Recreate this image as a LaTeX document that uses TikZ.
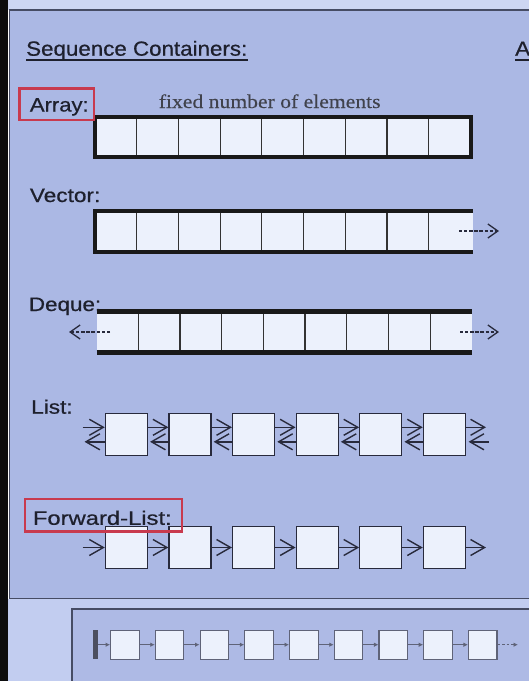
\documentclass[tikz,border=0pt]{standalone}
\usepackage{fontspec}
\usepackage{graphicx}
\setmainfont{Liberation Sans}
\newfontfamily\lblfont[FakeBold=0.6]{Liberation Sans}
\newfontfamily\serifff[FakeBold=0.3]{Liberation Serif}
\usetikzlibrary{arrows.meta}
\definecolor{panelbg}{RGB}{171,184,228}
\definecolor{topstrip}{RGB}{205,214,242}
\definecolor{lowbg}{RGB}{194,205,240}
\definecolor{cellfill}{RGB}{236,241,252}
\definecolor{boxbg}{RGB}{174,186,229}
\definecolor{redbox}{RGB}{200,58,78}
\definecolor{textcol}{RGB}{30,32,45}
\definecolor{framecol}{RGB}{70,76,100}
\definecolor{nodeline}{RGB}{40,42,60}
\definecolor{smallline}{RGB}{95,99,120}
\begin{document}
\begin{tikzpicture}[x=1pt,y=-1pt,
  lbl/.style={anchor=base west, inner sep=0pt, text=textcol, font=\lblfont\fontsize{19.5}{20}\selectfont},
  divider/.style={draw=black!80, line width=1.2pt},
  thickbox/.style={draw=black!90, line width=4pt},
  redframe/.style={draw=redbox, line width=2.5pt},
  lnode/.style={draw=nodeline, line width=1.3pt, fill=cellfill, minimum width=42pt, minimum height=42pt, inner sep=0pt},
  snode/.style={draw=smallline, line width=1.1pt, fill=cellfill, minimum width=28.5pt, minimum height=29pt, inner sep=0pt},
  barb/.style={draw=nodeline, line width=1.4pt, -{Straight Barb[length=14pt,width=16pt,line width=1.4pt]}},
  dasharr/.style={draw=nodeline, line width=1.2pt, dash pattern=on 3.3pt off 1.8pt, -{Straight Barb[length=10pt,width=14pt,line width=1.3pt]}},
  smallarr/.style={draw=smallline, line width=0.9pt, -{Latex[length=4.5pt,width=4.5pt]}},
  smalldash/.style={draw=smallline, line width=0.9pt, dash pattern=on 2.5pt off 2pt, -{Latex[length=4.5pt,width=4.5pt]}}
]
\useasboundingbox (0,0) rectangle (529,681);
% backgrounds
\fill[topstrip] (0,0) rectangle (529,10);
\fill[lowbg] (0,599) rectangle (529,681);
\fill[panelbg, draw=framecol, line width=1.5pt] (9.5,10) rectangle (540,598.5);
\fill[boxbg, draw=framecol, line width=1.5pt] (72,609) rectangle (540,690);
\fill[black!95] (0,0) rectangle (8.3,681);

% title
\node[lbl, font=\lblfont\fontsize{20.5}{21}\selectfont] (seq) at (26,55.7) {\scalebox{1.09}[1]{Sequence Containers:}};
\draw[textcol, line width=1.8pt] ([yshift=-4.5pt]seq.base west) -- ([yshift=-4.5pt]seq.base east);
\node[lbl, font=\lblfont\fontsize{20.5}{21}\selectfont] (acol) at (515,55.7) {\scalebox{1.09}[1]{A}};
\draw[textcol, line width=1.8pt] ([yshift=-4.5pt]acol.base west) -- ([yshift=-4.5pt]acol.base east);

% Array
\node[lbl] (arrlbl) at (29.7,111.5) {\scalebox{1.13}[1]{Array:}};
\node[anchor=base west, inner sep=0pt, text=textcol!85, font=\serifff\fontsize{19.5}{20}\selectfont] (fixed) at (158.6,108) {\scalebox{1.11}[1]{fixed number of elements}};
\fill[cellfill] (95,117) rectangle (470.6,157);
\foreach \i in {1,...,8} \draw[divider] ({95+41.7*\i},117) -- ({95+41.7*\i},157);
\draw[thickbox] (95,117) rectangle (470.6,157);
\draw[redframe] (19.6,88.4) rectangle (93.8,119.8);

% Vector
\node[lbl] (veclbl) at (29.7,202) {\scalebox{1.16}[1]{Vector:}};
\fill[cellfill] (95,211) rectangle (472.8,252);
\foreach \i in {1,...,8} \draw[divider] ({95+41.7*\i},211) -- ({95+41.7*\i},252);
\draw[thickbox, line join=miter] (472.8,211) -- (95,211) -- (95,252) -- (472.8,252);
\coordinate (vs) at (459,231);
\coordinate (ve) at (499,231);
\draw[dasharr] (vs) -- (ve);

% Deque
\node[lbl] (deqlbl) at (28.7,311) {\scalebox{1.15}[1]{Deque:}};
\fill[cellfill] (96.5,311.5) rectangle (472,352.5);
\foreach \i in {1,...,8} \draw[divider] ({96.5+41.7*\i},311.5) -- ({96.5+41.7*\i},352.5);
\draw[draw=black!90, line width=5pt] (96.5,311.5) -- (472,311.5);
\draw[draw=black!90, line width=5pt] (96.5,352.5) -- (472,352.5);
\coordinate (dls) at (110,332);
\coordinate (dle) at (69,332);
\coordinate (drs) at (460,332);
\coordinate (dre) at (499,332);
\draw[dasharr] (dls) -- (dle);
\draw[dasharr] (drs) -- (dre);

% List
\node[lbl] (listlbl) at (31,413.7) {\scalebox{1.16}[1]{List:}};
\foreach \i in {1,...,6} \node[lnode] (l\i) at ({126.4+63.6*(\i-1)},434.8) {};
\coordinate (lu0) at (82.7,427.3);
\coordinate (ld0) at (84.5,441.8);
\coordinate (lu7) at (486,427.3);
\coordinate (ld7) at (488.5,441.8);
\draw[barb] (lu0) -- ([yshift=7.5pt]l1.west);
\draw[barb] ([yshift=-7pt]l1.west) -- (ld0);
\foreach \i [evaluate=\i as \j using int(\i+1)] in {1,...,5} {
  \draw[barb] ([yshift=7.5pt]l\i.east) -- ([yshift=7.5pt]l\j.west);
  \draw[barb] ([yshift=-7pt]l\j.west) -- ([yshift=-7pt,xshift=2pt]l\i.east);
}
\draw[barb] ([yshift=7.5pt]l6.east) -- (lu7);
\draw[barb] (ld7) -- ([yshift=-7pt,xshift=2.5pt]l6.east);

% Forward list
\node[lbl] (fwdlbl) at (32.7,524.8) {\scalebox{1.22}[1]{Forward-List:}};
\foreach \i in {1,...,6} \node[lnode] (f\i) at ({126.4+63.6*(\i-1)},547.5) {};
\coordinate (f0) at (82.7,547.5);
\coordinate (f7) at (486,547.5);
\draw[barb] (f0) -- (f1.west);
\foreach \i [evaluate=\i as \j using int(\i+1)] in {1,...,5} \draw[barb] (f\i.east) -- (f\j.west);
\draw[barb] (f6.east) -- (f7);
\draw[redframe] (25,498.8) rectangle (182.2,531.3);

% bottom strip
\fill[smallline!80!black] (92.8,630) rectangle (97.8,659);
\coordinate (sb) at (97.8,644.7);
\foreach \i in {1,...,9} \node[snode] (s\i) at ({124.85+44.74*(\i-1)},644.7) {};
\draw[smallarr] (sb) -- (s1.west);
\foreach \i [evaluate=\i as \j using int(\i+1)] in {1,...,8} \draw[smallarr] (s\i.east) -- (s\j.west);
\coordinate (se) at (518,644.7);
\draw[smalldash] (s9.east) -- (se);
\end{tikzpicture}
\end{document}
